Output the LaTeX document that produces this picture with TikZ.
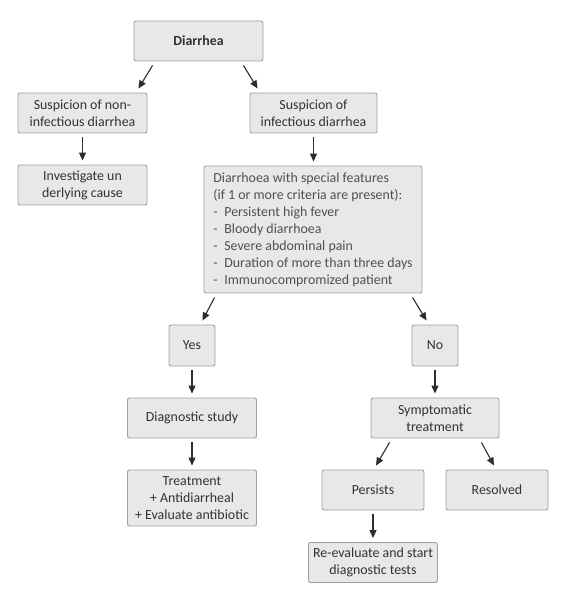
\documentclass[tikz,border=0pt]{standalone}
\usepackage{fontspec}
\setmainfont{Carlito}
\usetikzlibrary{arrows.meta}
\definecolor{boxfill}{RGB}{232,232,232}
\definecolor{boxline}{RGB}{160,160,160}
\definecolor{boxtext}{RGB}{50,50,50}
\definecolor{listtext}{RGB}{80,80,80}
\definecolor{arrowgray}{RGB}{45,45,45}
\newcommand{\crit}{\makebox[11pt][l]{-}}
\begin{document}
\begin{tikzpicture}[x=1pt,y=-1pt,
  fbox/.style={rectangle,rounded corners=2pt,draw=boxline,fill=boxfill,line width=0.9pt,
               text=boxtext,align=center,inner sep=0pt,minimum width=129pt,minimum height=40pt,
               font=\fontsize{13.9}{17}\selectfont},
  small/.style={minimum width=46pt,minimum height=41pt},
  arr/.style={-{Triangle[length=8pt,width=7pt]},draw=arrowgray,line width=1.1pt},
  vgap/.style={shorten <=4pt,shorten >=4pt}]
\useasboundingbox[fill=white] (0,0) rectangle (566,604);
\node[fbox] (diarrhea) at (198.5,41)  {\textbf{Diarrhea}};
\node[fbox] (noninf)   at (82.5,113)  {Suspicion of non-\\infectious diarrhea};
\node[fbox,minimum width=127pt] (infect) at (313.5,113) {Suspicion of\\infectious diarrhea};
\node[fbox] (invest)   at (82.5,185)  {Investigate un\\derlying cause};
\node[fbox,minimum width=218pt,minimum height=127pt,align=left,text=listtext] (special) at (313,229.5) {%
  Diarrhoea with special features\\
  (if 1 or more criteria are present):\\
  \crit Persistent high fever\\
  \crit Bloody diarrhoea\\
  \crit Severe abdominal pain\\
  \crit Duration of more than three days\\
  \crit Immunocompromized patient};
\node[fbox,small] (yes) at (192,345.5) {Yes};
\node[fbox,small] (no)  at (435,345.5) {No};
\node[fbox] (diag)  at (192,418) {Diagnostic study};
\node[fbox,minimum height=56pt] (treat) at (192,498) {Treatment\\+ Antidiarrheal\\+ Evaluate antibiotic};
\node[fbox,minimum width=128pt] (sym) at (435,418) {Symptomatic\\treatment};
\node[fbox,minimum width=102pt] (persists) at (373,490) {Persists};
\node[fbox,minimum width=102pt] (resolved) at (497,490) {Resolved};
\node[fbox] (reeval) at (373,562.5) {Re-evaluate and start\\diagnostic tests};

\draw[arr] ([xshift=19pt,yshift=-4pt]diarrhea.south west) -- ([xshift=-9pt,yshift=4pt]noninf.north east);
\draw[arr] ([xshift=-20pt,yshift=-4pt]diarrhea.south east) -- ([xshift=8pt,yshift=4pt]infect.north west);
\draw[arr,vgap] (noninf) -- (invest);
\draw[arr,vgap] (infect.south) -- (infect.south |- special.north);
\draw[arr] ([xshift=11pt,yshift=-4pt]special.south west) -- ([xshift=-13pt,yshift=4pt]yes.north east);
\draw[arr] ([xshift=-10pt,yshift=-4pt]special.south east) -- ([xshift=15pt,yshift=4pt]no.north west);
\draw[arr,vgap] (yes) -- (diag);
\draw[arr,vgap] (diag) -- (treat);
\draw[arr,vgap] (no) -- (sym);
\draw[arr] ([xshift=19pt,yshift=-4pt]sym.south west) -- ([xshift=3pt,yshift=4pt]persists.north);
\draw[arr] ([xshift=-18pt,yshift=-4pt]sym.south east) -- ([xshift=-3pt,yshift=4pt]resolved.north);
\draw[arr,vgap] (persists) -- (reeval);
\end{tikzpicture}
\end{document}
